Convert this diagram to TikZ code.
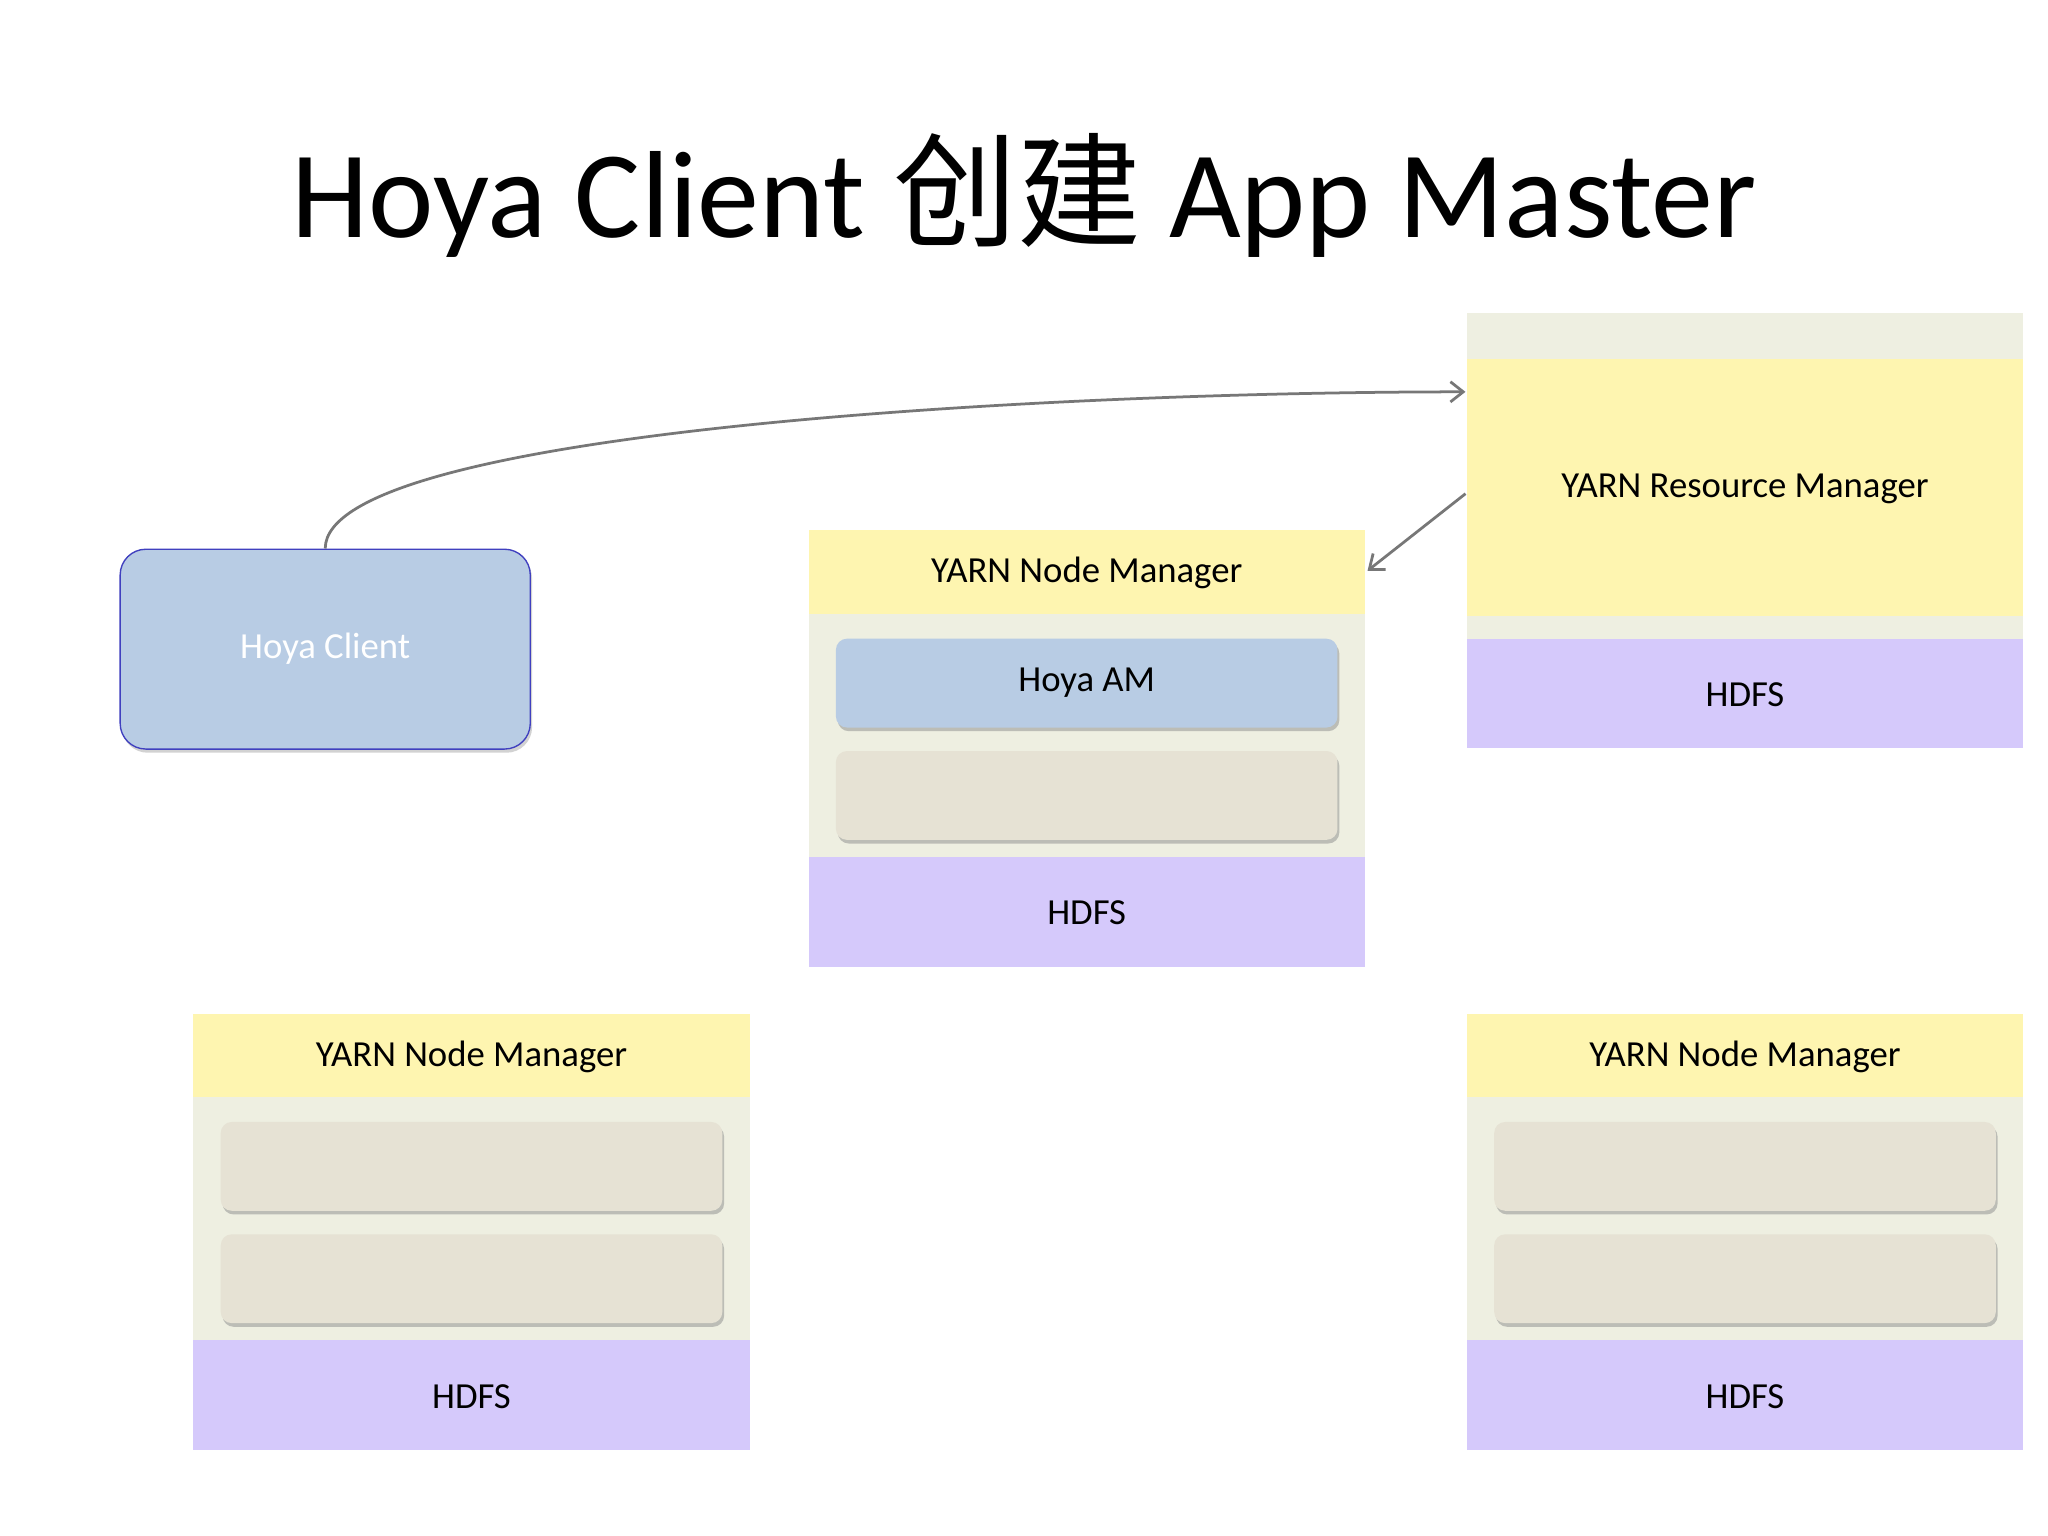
\documentclass[tikz,border=0pt]{standalone}
\usepackage{fontspec}
\setmainfont{Carlito}
\newfontfamily\cjk{Noto Sans CJK SC}
\usetikzlibrary{shadows,arrows.meta}
\definecolor{ylw}{HTML}{FEF5B0}
\definecolor{gry}{HTML}{EEEFE1}
\definecolor{prp}{HTML}{D5C9FB}
\definecolor{blu}{HTML}{B8CCE4}
\definecolor{slot}{HTML}{E6E2D4}
\definecolor{arr}{HTML}{777777}
\tikzset{
 lbl/.style={font=\fontsize{40}{44}\selectfont},
 slotbox/.style={rounded corners=12pt,fill=slot,drop shadow={shadow xshift=2pt,shadow yshift=-4pt,fill=black!45}},
 conn/.style={draw=arr,line width=3pt,-{Straight Barb[length=14pt,width=22pt]}}
}
\newcommand{\nmbox}[3]{% x, y top, name
 \fill[gry] (#1,-#2) rectangle ++(426,-334);
 \fill[ylw] (#1,-#2) rectangle ++(426,-64);
 \node[lbl] (#3t) at (#1+213,-#2-33) {YARN Node Manager};
 \fill[prp] (#1,-#2-250) rectangle ++(426,-84);
 \node[lbl] (#3h) at (#1+213,-#2-293) {HDFS};
}
\begin{document}
\begin{tikzpicture}[x=0.05cm,y=0.05cm]
\useasboundingbox[fill=white] (0,0) rectangle (1568,-1176);
\node[font=\fontsize{135}{140}\selectfont] (title) at (784,-150) {Hoya Client {\cjk 创建} App Master};
% RM
\fill[gry] (1123,-240) rectangle (1549,-573);
\fill[ylw] (1123,-275) rectangle (1549,-472);
\fill[prp] (1123,-489) rectangle (1549,-573);
\node[lbl] (rm) at (1336,-374) {YARN Resource Manager};
\node[lbl] (rmh) at (1336,-532) {HDFS};
\coordinate (rmin) at (1122,-300);
\coordinate (rmout) at (1122,-378);
% middle
\nmbox{619}{406}{m}
\node[slotbox,fill=blu,minimum width=384*0.05cm,minimum height=68*0.05cm,lbl] (am) at (832,-523) {Hoya AM};
\node[slotbox,minimum width=384*0.05cm,minimum height=68*0.05cm] (m2) at (832,-609) {};
\coordinate (nmin) at (1047,-437);
% bottom left
\nmbox{148}{776}{l}
\node[slotbox,minimum width=384*0.05cm,minimum height=68*0.05cm] (l1) at (361,-893) {};
\node[slotbox,minimum width=384*0.05cm,minimum height=68*0.05cm] (l2) at (361,-979) {};
% bottom right
\nmbox{1123}{776}{r}
\node[slotbox,minimum width=384*0.05cm,minimum height=68*0.05cm] (r1) at (1336,-893) {};
\node[slotbox,minimum width=384*0.05cm,minimum height=68*0.05cm] (r2) at (1336,-979) {};
% client
\node[rounded corners=28pt,fill=blu,draw=blue!50!gray,line width=1.5pt,minimum width=314*0.05cm,minimum height=153*0.05cm,text=white,lbl,drop shadow={shadow xshift=2pt,shadow yshift=-4pt,fill=black!35}] (cl) at (249,-497) {Hoya Client};
\draw[conn] (cl.north) .. controls (249,-330) and (800,-300) .. (rmin);
\draw[conn] (rmout) -- (nmin);
\end{tikzpicture}
\end{document}
